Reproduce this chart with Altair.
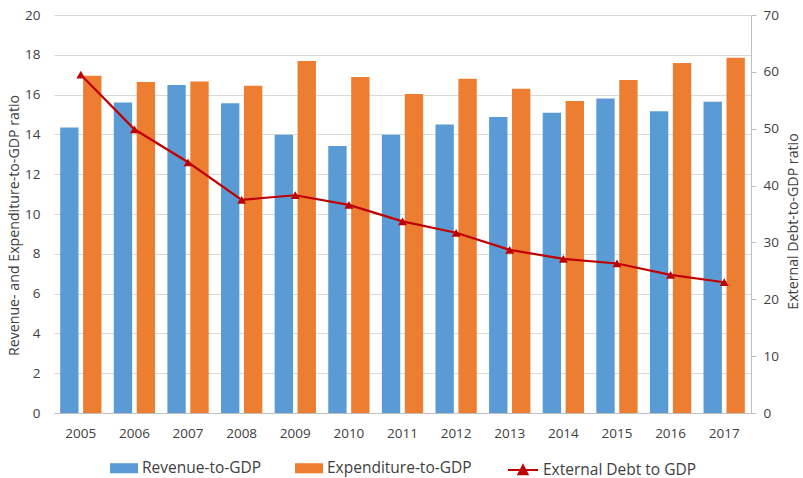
import altair as alt
import pandas as pd

years = [str(y) for y in range(2005, 2018)]
revenue = [14.35, 15.6, 16.48, 15.56, 13.98, 13.42, 13.98, 14.5, 14.87, 15.09, 15.81, 15.16, 15.64]
expenditure = [16.95, 16.63, 16.66, 16.45, 17.69, 16.88, 16.03, 16.8, 16.3, 15.68, 16.73, 17.59, 17.85]
debt = [59.5, 49.9, 44.1, 37.5, 38.3, 36.6, 33.7, 31.7, 28.7, 27.1, 26.3, 24.3, 23.0]

bar_series = ["Revenue-to-GDP", "Expenditure-to-GDP"]
line_series = "External Debt to GDP"
bar_colors = ["#5B9BD5", "#ED7D31"]
line_color = "#C00000"

left_title = "Revenue- and Expenditure-to-GDP ratio"
right_title = "External Debt-to-GDP ratio"

bars_df = pd.DataFrame(
    [{"year": y, "series": bar_series[0], "value": v} for y, v in zip(years, revenue)]
    + [{"year": y, "series": bar_series[1], "value": v} for y, v in zip(years, expenditure)]
)
line_df = pd.DataFrame({"year": years, "series": line_series, "debt": debt})

FONT = "Open Sans"
TXT = "#404040"
GRID = "#D9D9D9"
AXIS = "#BFBFBF"

x_enc = alt.X(
    "year:N",
    sort=years,
    scale=alt.Scale(paddingInner=0.23, paddingOuter=0.115),
    axis=alt.Axis(
        title=None, labelAngle=0, ticks=False, tickSize=0, labelPadding=20,
        labelBaseline="middle", labelFontSize=13.5, labelColor=TXT, labelFont=FONT,
        domainColor=AXIS, grid=False,
    ),
)

bars = alt.Chart(bars_df).mark_bar().encode(
    x=x_enc,
    xOffset=alt.XOffset("series:N", sort=bar_series, scale=alt.Scale(paddingInner=0.2)),
    y=alt.Y(
        "value:Q",
        scale=alt.Scale(domain=[0, 20], nice=False),
        axis=alt.Axis(
            title=left_title, values=list(range(0, 21, 2)), grid=True, gridColor=GRID,
            domain=False, ticks=False, tickSize=0, labelPadding=14,
            labelFontSize=13.5, labelColor=TXT, labelFont=FONT,
            titleFontSize=14.2, titleFont=FONT, titleColor=TXT, titleFontWeight="normal",
            titleX=-40, titleY=210, titleBaseline="middle", titleAngle=270,
        ),
    ),
    color=alt.Color(
        "series:N",
        scale=alt.Scale(domain=bar_series, range=bar_colors),
        legend=alt.Legend(
            title=None, orient="none", direction="horizontal", legendX=56, legendY=439,
            symbolType="M-1,-0.36H1V0.36H-1Z", symbolSize=784, symbolStrokeWidth=0,
            labelFontSize=15.5, labelFont=FONT, labelColor=TXT, labelOffset=4,
            columnPadding=33,
        ),
    ),
)

line = alt.Chart(line_df).mark_line(
    strokeWidth=2.2,
    point=alt.OverlayMarkDef(shape="triangle-up", size=80, filled=True),
).encode(
    x=alt.X("year:N", sort=years),
    y=alt.Y(
        "debt:Q",
        scale=alt.Scale(domain=[0, 70], nice=False),
        axis=alt.Axis(
            orient="right", title=right_title, values=list(range(0, 71, 10)), grid=False,
            domain=True, domainColor=AXIS, ticks=True, tickSize=5, tickColor=AXIS,
            labelPadding=7, labelFontSize=13.5, labelColor=TXT, labelFont=FONT,
            titleFontSize=14.2, titleFont=FONT, titleColor=TXT, titleFontWeight="normal",
            titleX=42, titleY=206, titleBaseline="middle", titleAngle=270,
        ),
    ),
    color=alt.Color(
        "series:N",
        scale=alt.Scale(domain=[line_series], range=[line_color]),
        legend=alt.Legend(
            title=None, orient="none", direction="horizontal", legendX=453, legendY=439,
            symbolType="M-1,0H1M-0.3,0.28L0,-0.3L0.3,0.28Z", symbolSize=900,
            symbolStrokeWidth=2, symbolStrokeColor=line_color, symbolFillColor=line_color,
            labelFontSize=15.5, labelFont=FONT, labelColor=TXT, labelOffset=4,
        ),
    ),
)

chart = (
    alt.layer(bars, line)
    .resolve_scale(y="independent", color="independent")
    .properties(
        width=697, height=398,
        autosize=alt.AutoSizeParams(type="none"),
        padding={"left": 54, "top": 15, "right": 52, "bottom": 65},
        background="white",
    )
    .configure_view(stroke=None)
)

chart.save("out.html", embed_options={"renderer": "svg", "actions": False})
